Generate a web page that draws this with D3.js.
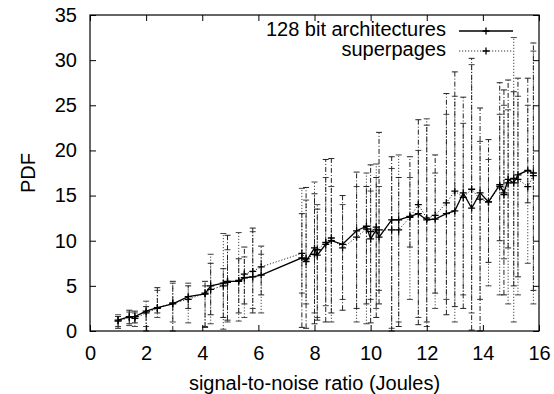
<!DOCTYPE html>
<html>
<head>
<meta charset="utf-8">
<script src="https://cdn.jsdelivr.net/npm/d3@7"></script>
<style>
  body { margin: 0; background: #fff; }
  text { font-family: "Liberation Sans", Arial, Helvetica, sans-serif; }
</style>
</head>
<body>
<div id="graphElement"></div>
<script>
// x positions (shared by both series)
var xVals = [1.0, 1.4, 1.6, 2.0, 2.4, 2.95, 3.5, 4.1, 4.3, 4.75, 4.9, 5.3, 5.5, 5.8, 6.1,
  7.55, 7.7, 8.0, 8.1, 8.4, 8.6, 9.0, 9.5, 9.85, 10.0, 10.2, 10.3, 10.75, 11.0, 11.4,
  11.7, 12.0, 12.3, 12.7, 13.0, 13.3, 13.6, 13.9, 14.2, 14.6, 14.75, 14.9, 15.1, 15.25, 15.6, 15.8];

// 128 bit architectures
var archY = [1.2, 1.6, 1.6, 2.2, 2.6, 3.0, 3.8, 4.1, 5.0, 5.3, 5.5, 5.5, 5.9, 6.0, 6.2,
  8.1, 7.7, 9.2, 8.4, 9.6, 10.0, 9.6, 11.1, 11.6, 10.2, 11.2, 10.4, 12.3, 12.3, 12.7,
  13.0, 12.3, 12.4, 13.0, 13.3, 15.3, 13.6, 15.3, 14.3, 16.2, 15.3, 16.8, 16.4, 17.3, 17.8, 17.5];
var archLo = [0.3, 0.8, 0.9, 0.0, 2.0, 0.0, 2.5, 0.4, 1.8, 1.5, 1.2, 2.0, 3.0, 2.0, 4.0,
  0.4, 0.3, 0.8, 1.2, 1.0, 2.0, 2.3, 2.5, 3.0, 0.9, 1.5, 3.0, 0.0, 0.5, 9.3,
  0.7, 1.0, 4.2, 1.8, 2.7, 2.5, 0.1, 0.0, 7.6, 10.0, 4.0, 9.2, 5.0, 6.0, 14.2, 4.5];
var archHi = [1.6, 2.3, 2.2, 2.7, 4.8, 5.5, 5.0, 5.5, 7.5, 6.9, 10.6, 8.0, 9.3, 11.4, 9.4,
  13.0, 15.9, 15.2, 13.5, 19.0, 19.1, 15.0, 17.6, 16.0, 18.4, 17.0, 22.0, 19.3, 17.0, 19.3,
  23.4, 22.8, 19.5, 26.3, 28.7, 25.9, 30.2, 24.7, 21.2, 27.5, 26.7, 27.8, 26.5, 28.0, 28.0, 31.9];

// superpages
var superY = [1.1, 1.5, 1.4, 2.0, 2.5, 3.1, 3.5, 4.2, 4.6, 5.0, 5.4, 5.6, 6.3, 6.6, 7.1,
  8.6, 8.0, 8.5, 9.0, 9.8, 10.3, 9.2, 10.4, 11.3, 11.0, 11.5, 11.2, 11.2, 11.2, 12.6,
  14.0, 12.5, 12.8, 14.2, 15.5, 14.8, 15.7, 14.6, 14.3, 16.0, 15.1, 16.4, 16.9, 16.8, 16.0, 17.2];
var superLo = [0.5, 0.6, 0.5, 0.5, 1.5, 1.0, 0.9, 0.5, 0.8, 0.2, 1.0, 1.1, 1.5, 2.5, 2.0,
  4.2, 3.0, 2.0, 1.5, 2.8, 1.0, 3.5, 1.0, 0.8, 3.5, 2.5, 4.5, 0.3, 1.0, 3.5,
  1.5, 0.5, 2.5, 3.5, 1.0, 4.0, 2.0, 3.5, 5.0, 4.0, 8.0, 3.0, 1.0, 4.0, 7.5, 3.0];
var superHi = [1.8, 2.1, 2.0, 3.3, 4.5, 5.3, 5.3, 5.0, 8.5, 10.8, 9.0, 10.9, 8.2, 11.0, 8.5,
  15.8, 14.5, 16.5, 14.0, 17.0, 16.0, 14.0, 16.0, 17.5, 15.5, 18.5, 16.0, 18.0, 19.5, 17.0,
  20.0, 23.5, 17.5, 24.0, 26.0, 23.0, 29.5, 21.0, 19.0, 24.0, 25.0, 24.5, 32.5, 26.0, 25.0, 31.0];

var seriesNames = ["128 bit architectures", "superpages"];
var xTicks = [0, 2, 4, 6, 8, 10, 12, 14, 16];
var yTicks = [0, 5, 10, 15, 20, 25, 30, 35];

var w = 554;
var h = 394;
var padLeft = 90, padRight = 539, padTop = 15, padBottom = 331;

var xScale = d3.scaleLinear().domain([0, 16]).range([padLeft, padRight]);
var yScale = d3.scaleLinear().domain([0, 35]).range([padBottom, padTop]);

var svg = d3.select("#graphElement")
            .append("svg")
            .attr("width", w)
            .attr("height", h);

svg.append("rect").attr("width", w).attr("height", h).attr("fill", "#fff");

function rows(ys, lo, hi) {
  return xVals.map(function(x, i) { return { x: x, y: ys[i], lo: lo[i], hi: hi[i] }; });
}

var series = [
  { name: seriesNames[0], data: rows(archY, archLo, archHi), color: "#000", line: null, bar: "5,2,1,2", barColor: "#222" },
  { name: seriesNames[1], data: rows(superY, superLo, superHi), color: "#333", line: "1.2,1.8", bar: "1.2,1.8", barColor: "#444" }
];

var plot = svg.append("g");

// error bars
series.slice().reverse().forEach(function(s) {
  var g = plot.append("g");
  g.selectAll("line.bar")
   .data(s.data)
   .enter()
   .append("line")
   .attr("x1", function(d) { return xScale(d.x); })
   .attr("x2", function(d) { return xScale(d.x); })
   .attr("y1", function(d) { return yScale(d.lo); })
   .attr("y2", function(d) { return yScale(d.hi); })
   .attr("stroke", s.barColor)
   .attr("stroke-width", 1)
   .attr("stroke-dasharray", s.bar);
  ["lo", "hi"].forEach(function(k) {
    g.selectAll("line.cap" + k)
     .data(s.data)
     .enter()
     .append("line")
     .attr("x1", function(d) { return xScale(d.x) - 3; })
     .attr("x2", function(d) { return xScale(d.x) + 3; })
     .attr("y1", function(d) { return yScale(d[k]); })
     .attr("y2", function(d) { return yScale(d[k]); })
     .attr("stroke", s.barColor)
     .attr("stroke-width", 1);
  });
});

var line = d3.line()
  .x(function(d) { return xScale(d.x); })
  .y(function(d) { return yScale(d.y); });

series.slice().reverse().forEach(function(s) {
  plot.append("path")
      .datum(s.data)
      .attr("d", line)
      .attr("fill", "none")
      .attr("stroke", s.color)
      .attr("stroke-width", s.line ? 1 : 1.3)
      .attr("stroke-dasharray", s.line);

  plot.selectAll(null)
      .data(s.data)
      .enter()
      .append("path")
      .attr("d", function(d) {
        var cx = xScale(d.x), cy = yScale(d.y);
        return "M" + (cx - 3.5) + "," + cy + "H" + (cx + 3.5) + "M" + cx + "," + (cy - 3.5) + "V" + (cy + 3.5);
      })
      .attr("stroke", "#000")
      .attr("stroke-width", 1.3);
});

// axes, ticks inward on all four sides
var fontSize = 20;
svg.append("g")
   .attr("transform", "translate(0," + padBottom + ")")
   .call(d3.axisBottom(xScale).tickValues(xTicks).tickSizeInner(-6).tickSizeOuter(0).tickPadding(15))
   .call(function(g) { g.select(".domain").remove(); });
svg.append("g")
   .attr("transform", "translate(0," + padTop + ")")
   .call(d3.axisTop(xScale).tickValues(xTicks).tickSizeInner(-6).tickSizeOuter(0).tickFormat(""))
   .call(function(g) { g.select(".domain").remove(); });
svg.append("g")
   .attr("transform", "translate(" + padLeft + ",0)")
   .call(d3.axisLeft(yScale).tickValues(yTicks).tickSizeInner(-6).tickSizeOuter(0).tickPadding(13))
   .call(function(g) { g.select(".domain").remove(); });
svg.append("g")
   .attr("transform", "translate(" + padRight + ",0)")
   .call(d3.axisRight(yScale).tickValues(yTicks).tickSizeInner(-6).tickSizeOuter(0).tickFormat(""))
   .call(function(g) { g.select(".domain").remove(); });

svg.selectAll(".tick line").attr("stroke", "#000");
svg.selectAll(".tick text")
   .attr("font-size", fontSize)
   .attr("font-family", "Liberation Sans, Arial, sans-serif")
   .attr("fill", "#000");

svg.append("rect")
   .attr("x", padLeft)
   .attr("y", padTop)
   .attr("width", padRight - padLeft)
   .attr("height", padBottom - padTop)
   .attr("fill", "none")
   .attr("stroke", "#000")
   .attr("stroke-width", 1.2);

// axis titles
svg.append("text")
   .attr("x", (padLeft + padRight) / 2)
   .attr("y", 385)
   .attr("text-anchor", "middle")
   .attr("dominant-baseline", "middle")
   .attr("font-size", fontSize)
   .text("signal-to-noise ratio (Joules)");

svg.append("text")
   .attr("transform", "translate(30," + (padTop + padBottom) / 2 + ") rotate(-90)")
   .attr("text-anchor", "middle")
   .attr("dominant-baseline", "middle")
   .attr("font-size", fontSize)
   .text("PDF");

// legend
var legendY = [31, 51];
series.forEach(function(s, i) {
  svg.append("text")
     .attr("x", 446)
     .attr("y", legendY[i])
     .attr("text-anchor", "end")
     .attr("dominant-baseline", "middle")
     .attr("font-size", fontSize)
     .text(s.name);
  svg.append("line")
     .attr("x1", 459).attr("x2", 513)
     .attr("y1", legendY[i]).attr("y2", legendY[i])
     .attr("stroke", s.color)
     .attr("stroke-width", s.line ? 1 : 1.3)
     .attr("stroke-dasharray", s.line);
  svg.append("path")
     .attr("d", "M482.5," + legendY[i] + "H489.5M486," + (legendY[i] - 3.5) + "V" + (legendY[i] + 3.5))
     .attr("stroke", "#000")
     .attr("stroke-width", 1.3);
});
</script>
</body>
</html>
